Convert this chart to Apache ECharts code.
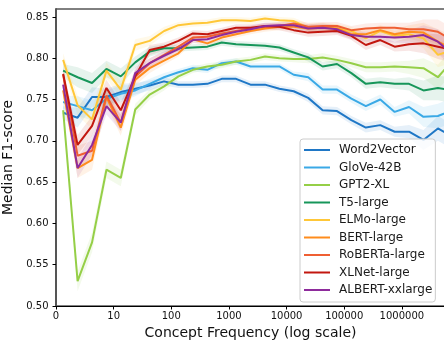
<!DOCTYPE html>
<html lang="en">
<head>
<meta charset="UTF-8">
<title>Median F1-score by concept frequency</title>
<style>
  html, body { margin: 0; padding: 0; background: #fff; }
  #main { width: 444px; height: 341px; }
</style>
</head>
<body>
<div id="main"></div>
<script src="https://cdn.jsdelivr.net/npm/echarts@6/dist/echarts.min.js"></script>
<script>
// concept frequency bins (geometric centre of each quarter decade)
var freqBins = [1.33, 2.37, 4.22, 7.5, 13.3, 23.7, 42.2, 75, 133, 237, 422, 750,
    1330, 2370, 4220, 7500, 13300, 23700, 42200, 75000, 133000, 237000, 422000,
    750000, 1330000, 2370000, 4220000, 7500000];

var word2vector = [0.734, 0.728, 0.753, 0.753, 0.759, 0.763, 0.767, 0.772, 0.768, 0.768, 0.769, 0.775,
    0.775, 0.768, 0.768, 0.763, 0.760, 0.752, 0.737, 0.736, 0.725, 0.716, 0.719, 0.711, 0.711, 0.701, 0.715, 0.705];
var glove42b = [0.747, 0.742, 0.737, 0.751, 0.757, 0.761, 0.769, 0.777, 0.783, 0.788, 0.786, 0.794,
    0.796, 0.790, 0.790, 0.790, 0.780, 0.777, 0.762, 0.762, 0.751, 0.742, 0.750, 0.735, 0.741, 0.729, 0.730, 0.737];
var gpt2xl = [0.737, 0.530, 0.577, 0.665, 0.655, 0.738, 0.756, 0.766, 0.778, 0.786, 0.790, 0.792,
    0.796, 0.798, 0.802, 0.800, 0.799, 0.799, 0.801, 0.798, 0.794, 0.789, 0.789, 0.790, 0.789, 0.788, 0.777, 0.797];
var t5large = [0.785, 0.777, 0.770, 0.787, 0.778, 0.795, 0.808, 0.812, 0.812, 0.813, 0.814, 0.819,
    0.817, 0.816, 0.815, 0.813, 0.807, 0.801, 0.790, 0.793, 0.782, 0.769, 0.771, 0.769, 0.769, 0.761, 0.764, 0.761];
var elmoLarge = [0.798, 0.743, 0.726, 0.785, 0.762, 0.816, 0.821, 0.833, 0.840, 0.842, 0.843, 0.846,
    0.846, 0.845, 0.848, 0.846, 0.845, 0.837, 0.838, 0.836, 0.833, 0.824, 0.833, 0.827, 0.829, 0.824, 0.804, 0.810];
var bertLarge = [0.761, 0.667, 0.677, 0.753, 0.716, 0.774, 0.788, 0.797, 0.806, 0.823, 0.818, 0.825,
    0.829, 0.833, 0.836, 0.838, 0.838, 0.836, 0.837, 0.836, 0.829, 0.829, 0.834, 0.829, 0.832, 0.831, 0.820, 0.812];
var robertaLarge = [0.780, 0.682, 0.688, 0.755, 0.722, 0.778, 0.794, 0.804, 0.814, 0.825, 0.826, 0.830,
    0.833, 0.836, 0.838, 0.839, 0.842, 0.838, 0.839, 0.839, 0.834, 0.836, 0.837, 0.837, 0.835, 0.835, 0.832, 0.822];
var xlnetLarge = [0.781, 0.695, 0.718, 0.764, 0.737, 0.778, 0.810, 0.814, 0.821, 0.830, 0.829, 0.833,
    0.837, 0.837, 0.839, 0.838, 0.834, 0.831, 0.832, 0.833, 0.827, 0.816, 0.822, 0.814, 0.817, 0.818, 0.814, 0.810];
var albertXxlarge = [0.768, 0.667, 0.695, 0.742, 0.722, 0.782, 0.794, 0.803, 0.811, 0.822, 0.823, 0.828,
    0.832, 0.835, 0.839, 0.840, 0.840, 0.836, 0.837, 0.835, 0.828, 0.826, 0.826, 0.825, 0.826, 0.828, 0.820, 0.805];

// half width of the shaded confidence band per bin
var bandHalf = [0.008, 0.012, 0.012, 0.010, 0.010, 0.007, 0.006, 0.005, 0.004, 0.004, 0.004, 0.004,
    0.004, 0.004, 0.004, 0.004, 0.004, 0.005, 0.005, 0.005, 0.005, 0.006, 0.006, 0.006, 0.008, 0.012, 0.015, 0.015];

var modelNames = ['Word2Vector', 'GloVe-42B', 'GPT2-XL', 'T5-large', 'ELMo-large',
    'BERT-large', 'RoBERTa-large', 'XLNet-large', 'ALBERT-xxlarge'];
var modelValues = [word2vector, glove42b, gpt2xl, t5large, elmoLarge,
    bertLarge, robertaLarge, xlnetLarge, albertXxlarge];
var modelColors = ['#1f77c6', '#3aa9e6', '#95cf47', '#17965a', '#ffc738',
    '#ff8c1c', '#ef5f33', '#c2170f', '#8e2b9c'];

var xTicks = [1, 10, 100, 1000, 10000, 100000, 1000000];
var yTicks = [0.50, 0.55, 0.60, 0.65, 0.70, 0.75, 0.80, 0.85];

var font = 'DejaVu Sans';
var myChart = echarts.init(document.getElementById('main'), null, { renderer: 'canvas' });

var series = [];

// shaded bands first, so lines sit on top
modelValues.forEach(function (vals, i) {
    var rows = freqBins.map(function (f, k) {
        return [f, vals[k] - bandHalf[k], vals[k] + bandHalf[k]];
    });
    series.push({
        type: 'custom',
        silent: true,
        clip: true,
        z: 1,
        data: rows,
        encode: { x: 0, y: [1, 2] },
        renderItem: function (params, api) {
            if (params.dataIndex !== 0) return;
            var pts = [];
            for (var k = 0; k < rows.length; k++) pts.push(api.coord([rows[k][0], rows[k][1]]));
            for (var k = rows.length - 1; k >= 0; k--) pts.push(api.coord([rows[k][0], rows[k][2]]));
            return {
                type: 'polygon',
                shape: { points: pts },
                style: { fill: modelColors[i], opacity: 0.11 }
            };
        }
    });
});

modelValues.forEach(function (vals, i) {
    series.push({
        name: modelNames[i],
        type: 'line',
        symbol: 'none',
        z: 3,
        clip: true,
        data: freqBins.map(function (f, k) { return [f, vals[k]]; }),
        lineStyle: { color: modelColors[i], width: 2 },
        itemStyle: { color: modelColors[i] }
    });
});

var option = {
    animation: false,
    backgroundColor: '#fff',
    textStyle: { fontFamily: font },
    grid: {
        left: 56, right: -1, top: 9, bottom: 35,
        outerBoundsMode: 'none',
        containLabel: false,
        show: true, borderColor: '#000', borderWidth: 1
    },
    legend: {
        data: modelNames,
        orient: 'vertical',
        left: 300,
        top: 139,
        icon: 'rect',
        itemWidth: 26,
        itemHeight: 2,
        itemGap: 5.5,
        padding: [5, 3, 6, 4],
        backgroundColor: 'rgba(255,255,255,0.8)',
        borderColor: '#cccccc',
        borderWidth: 1,
        borderRadius: 3,
        textStyle: { fontFamily: font, fontSize: 12, color: '#1a1a1a', padding: [0, 0, 0, 4] }
    },
    xAxis: {
        type: 'log',
        logBase: 10,
        min: 1,
        max: 5600000,
        name: 'Concept Frequency (log scale)',
        nameLocation: 'middle',
        nameGap: 18,
        nameTextStyle: { fontFamily: font, fontSize: 14, color: '#111' },
        axisLine: { lineStyle: { color: '#000', width: 1 } },
        axisTick: { inside: false, length: 3.5, lineStyle: { color: '#000' }, customValues: xTicks },
        axisLabel: {
            customValues: xTicks,
            fontFamily: font, fontSize: 10, color: '#111', margin: 5,
            formatter: function (v) { var r = Math.round(v); return r === 1 ? '0' : String(r); }
        },
        splitLine: { show: false },
        minorTick: { show: false }
    },
    yAxis: {
        type: 'value',
        min: 0.5,
        max: 0.8596,
        name: 'Median F1-score',
        nameLocation: 'middle',
        nameGap: 28,
        nameTextStyle: { fontFamily: font, fontSize: 14, color: '#111' },
        axisLine: { show: true, lineStyle: { color: '#555', width: 2 } },
        axisTick: { show: true, inside: false, length: 3.5, lineStyle: { color: '#000' }, customValues: yTicks },
        axisLabel: {
            customValues: yTicks,
            fontFamily: font, fontSize: 10, color: '#111', margin: 7.5,
            formatter: function (v) { return v.toFixed(2); }
        },
        splitLine: { show: false }
    },
    series: series
};

myChart.setOption(option);
</script>
</body>
</html>
